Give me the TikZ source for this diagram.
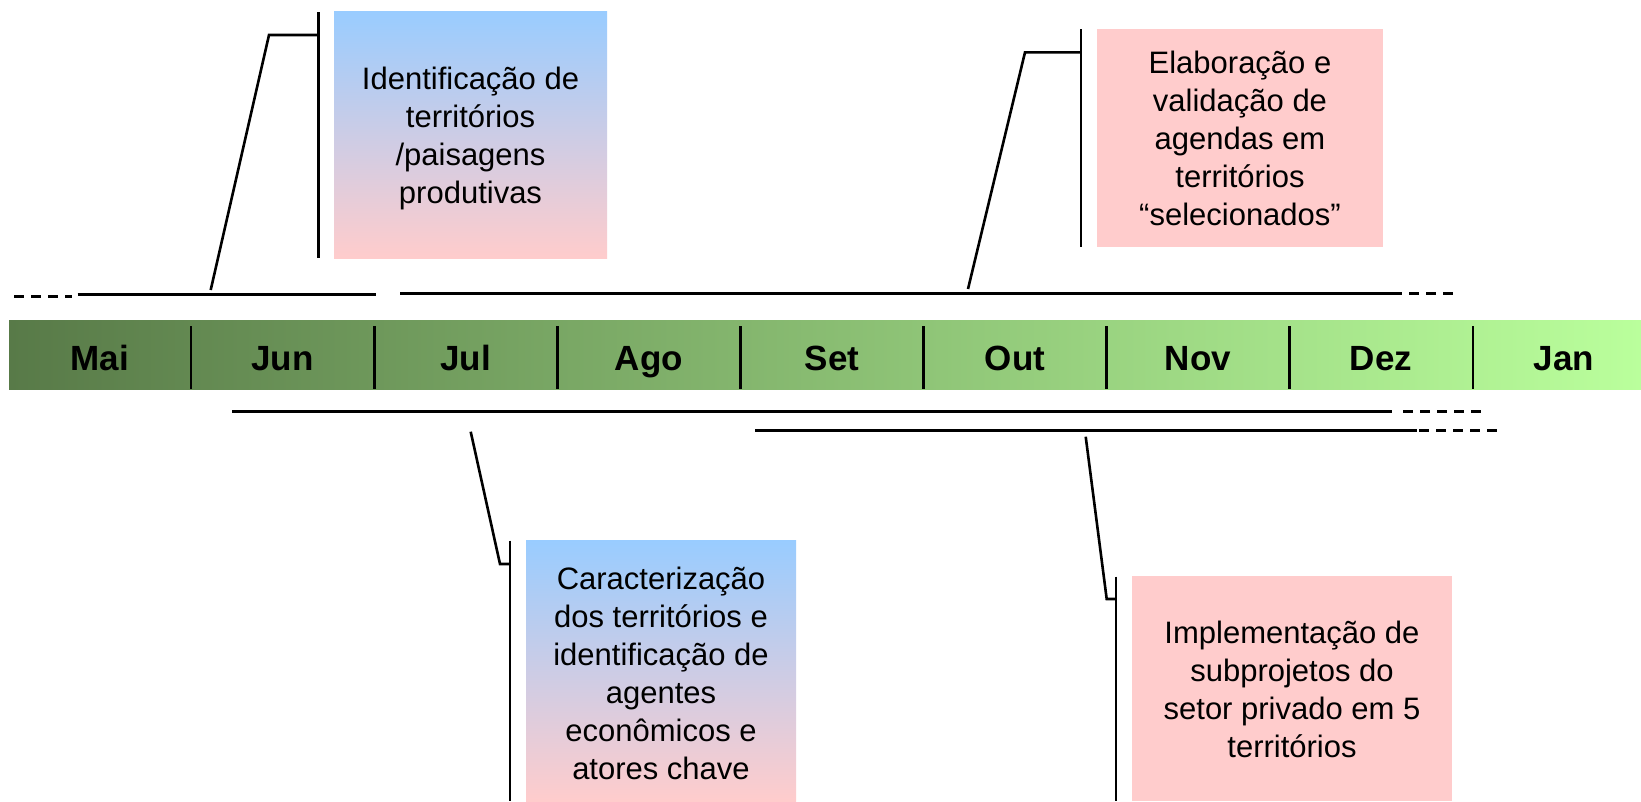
\documentclass[tikz,border=0pt]{standalone}
\usepackage{fontspec}
\setmainfont{Liberation Sans}
\newcommand\monthtxt{\fontsize{35}{42}\selectfont\bfseries}
\newcommand\bodytxt{\fontsize{31}{38}\selectfont}
\definecolor{boxblue}{HTML}{99CCFF}
\definecolor{boxpink}{HTML}{FFCCCC}
\definecolor{bardark}{RGB}{88,122,72}
\definecolor{barlight}{RGB}{186,255,156}
\begin{document}
\begin{tikzpicture}[x=1pt,y=-1pt,
  tl/.style={line width=3pt},
  tldash/.style={line width=3pt, dash pattern=on 10pt off 7pt},
  brk/.style={line width=2.6pt},
  divider/.style={line width=2.6pt},
  month/.style={font=\monthtxt, anchor=base, inner sep=0pt},
  txt/.style={font=\bodytxt, align=center, anchor=base, inner sep=0pt},
  gbox/.style={draw=none, top color=boxblue, bottom color=boxpink, inner sep=0pt, anchor=north west},
  pbox/.style={draw=none, fill=boxpink, inner sep=0pt, anchor=north west}]
\useasboundingbox (0,0) rectangle (1641,801);
\fill[white] (0,0) rectangle (1641,801);

% timeline bar
\node[draw=none, left color=bardark, right color=barlight, inner sep=0pt,
      anchor=north west, minimum width=1632pt, minimum height=69pt] (bar) at (9,320) {};
\foreach \x/\n in {191.1/d1,374.2/d2,557.3/d3,740.4/d4,923.5/d5,1106.6/d6,1289.7/d7,1472.8/d8}{
  \coordinate (\n t) at (\x,326);
  \coordinate (\n b) at (\x,389.3);
  \draw[divider] (\n t) -- (\n b);
}
\foreach \x/\m in {100/Mai,282.6/Jun,465.7/Jul,648.8/Ago,832/Set,1015/Out,1198/Nov,1381/Dez,1564/Jan}{
  \node[month] (m\m) at (\x,370.7) {\m};
}

% activity lines
\coordinate (l1a) at (77.7,294.3); \coordinate (l1b) at (376,294.3);
\coordinate (l1da) at (14,296); \coordinate (l1db) at (72,296);
\draw[tl] (l1a) -- (l1b);
\draw[tldash] (l1da) -- (l1db);

\coordinate (l2a) at (400,293.5); \coordinate (l2b) at (1392,293.5);
\coordinate (l2db) at (1460,293.5);
\draw[tl] (l2a) -- (l2b);
\draw[tldash] (l2b) -- (l2db);

\coordinate (l3a) at (232,411); \coordinate (l3b) at (1392,411);
\coordinate (l3da) at (1403,411); \coordinate (l3db) at (1482,411);
\draw[tl] (l3a) -- (l3b);
\draw[tldash] (l3da) -- (l3db);

\coordinate (l4a) at (755,430.5); \coordinate (l4b) at (1417,430.5);
\coordinate (l4da) at (1419,430.5); \coordinate (l4db) at (1498,430.5);
\draw[tl] (l4a) -- (l4b);
\draw[tldash] (l4da) -- (l4db);

% box 1
\node[gbox, minimum width=273pt, minimum height=247pt] (box1) at (334,11) {};
\node[txt] (t1) at (470.5,203.5) {Identificação de\\territórios\\/paisagens\\produtivas};
\coordinate (k1t) at (318.3,12); \coordinate (k1b) at (318.3,258);
\coordinate (k1h) at (318.3,35); \coordinate (k1c) at (269,35); \coordinate (k1e) at (210.7,290);
\draw[brk] (k1t) -- (k1b);
\draw[brk] (k1h) -- (k1c) -- (k1e);

% box 2
\node[pbox, minimum width=286pt, minimum height=218pt] (box2) at (1097,29) {};
\node[txt] (t2) at (1240,225) {Elaboração e\\validação de\\agendas em\\territórios\\“selecionados”};
\coordinate (k2t) at (1081,29); \coordinate (k2b) at (1081,247);
\coordinate (k2h) at (1081,52.3); \coordinate (k2c) at (1025,52.3); \coordinate (k2e) at (968,289);
\draw[brk] (k2t) -- (k2b);
\draw[brk] (k2h) -- (k2c) -- (k2e);

% box 3
\node[gbox, minimum width=270pt, minimum height=261pt] (box3) at (526,540) {};
\node[txt] (t3) at (661,779) {Caracterização\\dos territórios e\\identificação de\\agentes\\econômicos e\\atores chave};
\coordinate (k3t) at (510,540.7); \coordinate (k3b) at (510,801);
\coordinate (k3h) at (510,564); \coordinate (k3c) at (500,564); \coordinate (k3e) at (470.7,431.7);
\draw[brk] (k3t) -- (k3b);
\draw[brk] (k3h) -- (k3c) -- (k3e);

% box 4
\node[pbox, minimum width=320pt, minimum height=225pt] (box4) at (1132,576) {};
\node[txt] (t4) at (1292,757) {Implementação de\\subprojetos do\\setor privado em 5\\territórios};
\coordinate (k4t) at (1116,576.7); \coordinate (k4b) at (1116,801);
\coordinate (k4h) at (1116,599); \coordinate (k4c) at (1106.7,599); \coordinate (k4e) at (1085.7,436.7);
\draw[brk] (k4t) -- (k4b);
\draw[brk] (k4h) -- (k4c) -- (k4e);
\end{tikzpicture}
\end{document}
